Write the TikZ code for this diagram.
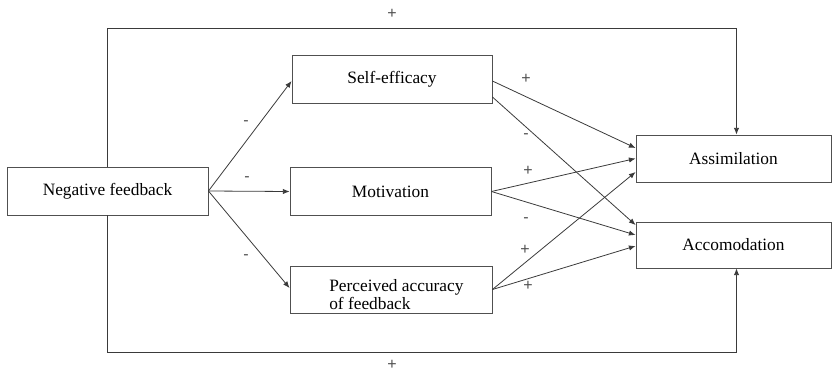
\documentclass[tikz,border=0pt]{standalone}
\usepackage{fontspec}
\setmainfont{Liberation Serif}
\newfontfamily\signfont{Liberation Sans}
\usetikzlibrary{arrows.meta,calc}
\definecolor{linecol}{HTML}{3A3A3A}
\definecolor{boxcol}{HTML}{505050}
\definecolor{signcol}{HTML}{505050}
\tikzset{
  box/.style={draw=boxcol, line width=0.65pt, rectangle, inner sep=0pt, font=\fontsize{13}{15}\selectfont},
  conn/.style={draw=linecol, line width=0.6pt, -{Latex[length=5pt,width=4pt]}},
  sign/.style={text=signcol, font=\signfont\fontsize{12}{14}\selectfont, inner sep=0pt}
}
\begin{document}
\begin{tikzpicture}[x=0.75pt,y=-0.75pt]
\useasboundingbox (0,0) rectangle (832,371);
\node[box, minimum width=150.75pt, minimum height=36pt] (nf) at (107.5,191) {Negative feedback};
\node[box, minimum width=150pt, minimum height=36pt] (se) at (392,79) {Self-efficacy};
\node[box, minimum width=150.75pt, minimum height=36pt] (mo) at (390.5,191.5) {Motivation};
\node[box, minimum width=151.5pt, minimum height=35.25pt] (pa) at (391,289.5) {};
\node[anchor=west, align=left, inner sep=0pt, font=\fontsize{13}{13.5}\selectfont] (patext) at (329,295) {Perceived accuracy\\of feedback};
\node[box, minimum width=146.25pt, minimum height=35.25pt] (as) at (733.5,158.5) {Assimilation};
\node[box, minimum width=146.25pt, minimum height=34.5pt] (ac) at (733.5,245) {Accomodation};

\coordinate (top) at (0,28);
\coordinate (bot) at (0,352);

% left fan
\draw[conn] (nf.east) -- ($(se.west)+(0,2)$);
\draw[conn] (nf.east) -- (mo.west);
\draw[conn] (nf.east) -- ($(pa.west)+(0,-1.5)$);

% right cross
\draw[conn] ($(se.east)+(0,2)$) -- ($(as.west)+(0,-10.5)$);
\draw[conn] ($(se.east)+(0,18)$) -- ($(ac.west)+(0,-20)$);
\draw[conn] (mo.east) -- (as.west);
\draw[conn] (mo.east) -- ($(ac.west)+(0,-10)$);
\draw[conn] (pa.east) -- ($(as.west)+(0,13.5)$);
\draw[conn] (pa.east) -- ($(ac.west)+(0,1)$);

% loops
\draw[conn] (nf.north) -- (nf.north |- top) -- ($(as.north |- top)+(3,0)$) -- ($(as.north)+(3,0)$);
\draw[conn] (nf.south) -- (nf.south |- bot) -- ($(ac.south |- bot)+(3,0)$) -- ($(ac.south)+(3,0)$);

% signs
\node[sign] (s1) at (392,14) {+};
\node[sign] (s2) at (392,365) {+};
\node[sign] (s3) at (246,123) {-};
\node[sign] (s4) at (247,179) {-};
\node[sign] (s5) at (246,257) {-};
\node[sign] (s6) at (526,79) {+};
\node[sign] (s7) at (526,136) {-};
\node[sign] (s8) at (528,171) {+};
\node[sign] (s9) at (526,220) {-};
\node[sign] (s10) at (525,250) {+};
\node[sign] (s11) at (528,286) {+};
\end{tikzpicture}
\end{document}
